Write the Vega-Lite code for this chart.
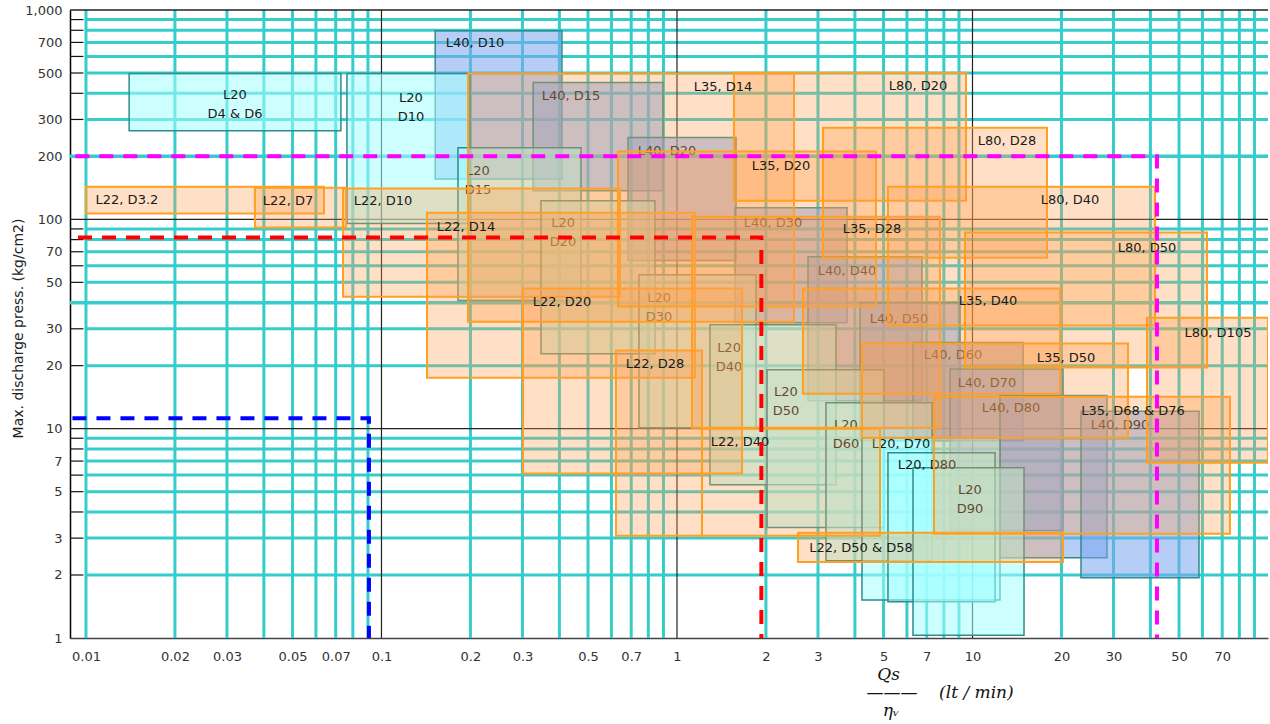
{
  "$schema": "https://vega.github.io/schema/vega-lite/v6.json",
  "width": 1198,
  "height": 628,
  "autosize": {"type": "none"},
  "padding": {"left": 70, "top": 10, "right": 2, "bottom": 86},
  "background": "#ffffff",
  "config": {"view": {"stroke": null}, "font": "DejaVu Sans"},
  "datasets": {
    "xteal": [{"x":0.01},{"x":0.02},{"x":0.03},{"x":0.04},{"x":0.05},{"x":0.06},{"x":0.07},{"x":0.08},{"x":0.09},{"x":0.2},{"x":0.3},{"x":0.4},{"x":0.5},{"x":0.6},{"x":0.7},{"x":0.8},{"x":0.9},{"x":2},{"x":3},{"x":4},{"x":5},{"x":6},{"x":7},{"x":8},{"x":9},{"x":20},{"x":30},{"x":40},{"x":50},{"x":60},{"x":70},{"x":80},{"x":90}],
    "yteal": [{"y":2},{"y":3},{"y":4},{"y":5},{"y":6},{"y":7},{"y":8},{"y":9},{"y":20},{"y":30},{"y":50},{"y":60},{"y":70},{"y":80},{"y":90},{"y":300},{"y":400},{"y":500},{"y":600},{"y":700},{"y":800},{"y":900}],
    "ytealfull": [{"y":40},{"y":200}],
    "xblack": [{"x":0.1},{"x":1},{"x":10}],
    "yblack": [{"y":10},{"y":100},{"y":1000}],
    "boxes": [
      {"name":"L40, D10","series":"L40","x":0.152,"x2":0.408,"y":156,"y2":797},
      {"name":"L40, D15","series":"L40","x":0.326,"x2":0.897,"y":137,"y2":450},
      {"name":"L40, D20","series":"L40","x":0.683,"x2":1.584,"y":63.5,"y2":246},
      {"name":"L40, D30","series":"L40","x":1.572,"x2":3.761,"y":32.1,"y2":113.7},
      {"name":"L40, D40","series":"L40","x":2.776,"x2":6.747,"y":13.6,"y2":66.3},
      {"name":"L40, D50","series":"L40","x":4.162,"x2":9.072,"y":8.76,"y2":40.0},
      {"name":"L40, D60","series":"L40","x":6.29,"x2":14.83,"y":8.76,"y2":25.8},
      {"name":"L40, D70","series":"L40","x":8.393,"x2":20.25,"y":3.26,"y2":19.3},
      {"name":"L40, D80","series":"L40","x":12.39,"x2":28.52,"y":2.42,"y2":14.4},
      {"name":"L40, D90","series":"L40","x":23.29,"x2":58.41,"y":1.94,"y2":12.1},
      {"name":"L20, D4 & D6","series":"L20","x":0.014,"x2":0.0729,"y":265,"y2":497},
      {"name":"L20, D10","series":"L20","x":0.0764,"x2":0.1993,"y":95.4,"y2":497},
      {"name":"L20, D15","series":"L20","x":0.1815,"x2":0.4733,"y":40.9,"y2":220},
      {"name":"L20, D20","series":"L20","x":0.3465,"x2":0.8424,"y":22.8,"y2":122.8},
      {"name":"L20, D30","series":"L20","x":0.7436,"x2":1.851,"y":10.1,"y2":54.4},
      {"name":"L20, D40","series":"L20","x":1.293,"x2":3.452,"y":5.4,"y2":31.4},
      {"name":"L20, D50","series":"L20","x":2.017,"x2":5.018,"y":3.37,"y2":19.1},
      {"name":"L20, D60","series":"L20","x":3.193,"x2":7.295,"y":2.34,"y2":13.3},
      {"name":"L20, D70","series":"L20","x":4.227,"x2":12.39,"y":1.52,"y2":9.06},
      {"name":"L20, D80","series":"L20","x":5.176,"x2":11.92,"y":1.49,"y2":7.68},
      {"name":"L20, D90","series":"L20","x":6.29,"x2":14.94,"y":1.03,"y2":6.51},
      {"name":"L22, D3.2","series":"L22","x":0.01,"x2":0.0639,"y":106.5,"y2":143.3},
      {"name":"L22, D7","series":"L22","x":0.0373,"x2":0.0758,"y":91.3,"y2":141.7},
      {"name":"L22, D10","series":"L22","x":0.0741,"x2":0.6414,"y":42.7,"y2":140.2},
      {"name":"L22, D14","series":"L22","x":0.1426,"x2":1.15,"y":17.5,"y2":107.6},
      {"name":"L22, D20","series":"L22","x":0.3012,"x2":1.66,"y":6.1,"y2":46.7},
      {"name":"L22, D28","series":"L22","x":0.6216,"x2":1.215,"y":3.08,"y2":23.6},
      {"name":"L22, D40","series":"L22","x":1.215,"x2":4.864,"y":3.08,"y2":10.0},
      {"name":"L22, D50 & D58","series":"L22","x":2.568,"x2":20.25,"y":2.31,"y2":3.18},
      {"name":"L35, D14","series":"L35","x":0.1963,"x2":2.489,"y":32.4,"y2":497},
      {"name":"L35, D20","series":"L35","x":0.6314,"x2":4.715,"y":38.3,"y2":211},
      {"name":"L35, D28","series":"L35","x":1.124,"x2":7.762,"y":10.1,"y2":103},
      {"name":"L35, D40","series":"L35","x":2.669,"x2":19.78,"y":14.7,"y2":46.7},
      {"name":"L35, D50","series":"L35","x":4.227,"x2":33.59,"y":9.06,"y2":25.5},
      {"name":"L35, D68 & D76","series":"L35","x":7.41,"x2":74.35,"y":3.15,"y2":14.2},
      {"name":"L80, D20","series":"L80","x":1.559,"x2":9.507,"y":122.8,"y2":502},
      {"name":"L80, D28","series":"L80","x":3.12,"x2":17.87,"y":65.6,"y2":274},
      {"name":"L80, D40","series":"L80","x":5.176,"x2":41.47,"y":31.1,"y2":143.3},
      {"name":"L80, D50","series":"L80","x":9.433,"x2":62.19,"y":19.6,"y2":86.4},
      {"name":"L80, D105","series":"L80","x":38.95,"x2":100,"y":6.88,"y2":33.9}
    ],
    "labels": [
      {"text":"L40, D10","series":"L40","x":0.2072,"y":698.6},
      {"text":"L40, D15","series":"L40","x":0.4378,"y":390},
      {"text":"L40, D20","series":"L40","x":0.9251,"y":212.9},
      {"text":"L40, D30","series":"L40","x":2.113,"y":96.4},
      {"text":"L40, D40","series":"L40","x":3.761,"y":56.9},
      {"text":"L40, D50","series":"L40","x":5.64,"y":33.5},
      {"text":"L40, D60","series":"L40","x":8.59,"y":22.6},
      {"text":"L40, D70","series":"L40","x":11.19,"y":16.6},
      {"text":"L40, D80","series":"L40","x":13.5,"y":12.6},
      {"text":"L40, D90","series":"L40","x":31.56,"y":10.4},
      {"text":"L20\nD4 & D6","series":"L20","x":0.03193,"y":394},
      {"text":"L20\nD10","series":"L20","x":0.1258,"y":381.5},
      {"text":"L20\nD15","series":"L20","x":0.2121,"y":170.9},
      {"text":"L20\nD20","series":"L20","x":0.4115,"y":96.4},
      {"text":"L20\nD30","series":"L20","x":0.8694,"y":42.3},
      {"text":"L20\nD40","series":"L20","x":1.5,"y":24.4},
      {"text":"L20\nD50","series":"L20","x":2.338,"y":14.9},
      {"text":"L20\nD60","series":"L20","x":3.732,"y":10.4},
      {"text":"L20, D70","series":"L20","x":5.729,"y":8.48},
      {"text":"L20, D80","series":"L20","x":7.015,"y":6.73},
      {"text":"L20\nD90","series":"L20","x":9.806,"y":5.11},
      {"text":"L22, D3.2","series":"L22","x":0.01376,"y":124.2},
      {"text":"L22, D7","series":"L22","x":0.04828,"y":122.8},
      {"text":"L22, D10","series":"L22","x":0.1012,"y":122.8},
      {"text":"L22, D14","series":"L22","x":0.1932,"y":92.3},
      {"text":"L22, D20","series":"L22","x":0.4083,"y":40.5},
      {"text":"L22, D28","series":"L22","x":0.8424,"y":20.4},
      {"text":"L22, D40","series":"L22","x":1.634,"y":8.67},
      {"text":"L22, D50 & D58","series":"L22","x":4.195,"y":2.7},
      {"text":"L35, D14","series":"L35","x":1.431,"y":430.5},
      {"text":"L35, D20","series":"L35","x":2.248,"y":180.5},
      {"text":"L35, D28","series":"L35","x":4.57,"y":90.3},
      {"text":"L35, D40","series":"L35","x":11.28,"y":40.9},
      {"text":"L35, D50","series":"L35","x":20.72,"y":21.8},
      {"text":"L35, D68 & D76","series":"L35","x":34.92,"y":12.2},
      {"text":"L80, D20","series":"L80","x":6.541,"y":435.4},
      {"text":"L80, D28","series":"L80","x":13.09,"y":237.7},
      {"text":"L80, D40","series":"L80","x":21.38,"y":124.2},
      {"text":"L80, D50","series":"L80","x":38.95,"y":73.2},
      {"text":"L80, D105","series":"L80","x":67.73,"y":28.8}
    ],
    "guides": [
      {"g":"magenta","o":1,"x":0.0092,"y":200},
      {"g":"magenta","o":2,"x":42.1,"y":200},
      {"g":"magenta","o":3,"x":42.1,"y":1},
      {"g":"red","o":1,"x":0.0094,"y":82},
      {"g":"red","o":2,"x":1.93,"y":82},
      {"g":"red","o":3,"x":1.93,"y":1},
      {"g":"blue","o":1,"x":0.009,"y":11.2},
      {"g":"blue","o":2,"x":0.0907,"y":11.2},
      {"g":"blue","o":3,"x":0.0907,"y":1}
    ]
  },
  "layer": [
    {"data": {"name": "boxes"}, "transform": [{"filter": "datum.series == 'none'"}],
     "mark": {"type": "rect"},
     "encoding": {
       "x": {"field": "x", "type": "quantitative", "scale": {"type": "log", "domain": [0.00883, 100], "nice": false},
         "axis": {"values": [0.01,0.02,0.03,0.05,0.07,0.1,0.2,0.3,0.5,0.7,1,2,3,5,7,10,20,30,50,70],
           "format": "~g", "grid": false, "ticks": false, "domainColor": "#444", "domainWidth": 1.5,
           "labelFontSize": 13, "labelColor": "#333", "labelPadding": 12, "labelFlush": false, "labelOverlap": false,
           "title": ["\u200b\u00a0\u00a0Qs", "———\u00a0\u00a0\u00a0\u00a0(lt / min)", "\u200b\u00a0\u00a0\u00a0η\u1d65"], "titleFont": "DejaVu Serif", "titleFontStyle": "italic",
           "titleFontSize": 17, "titleFontWeight": "normal", "titleColor": "#111", "titleAlign": "left",
           "titleBaseline": "top", "titleX": 796, "titleY": 28, "titleLineHeight": 18}},
       "x2": {"field": "x2"},
       "y": {"field": "y", "type": "quantitative", "scale": {"type": "log", "domain": [1, 1000], "nice": false, "zero": false},
         "axis": {"values": [1,2,3,5,7,10,20,30,50,70,100,200,300,500,700,1000],
           "format": ",~g", "grid": false, "ticks": false, "domainColor": "#000", "domainWidth": 1.5,
           "labelFontSize": 13, "labelColor": "#333", "labelPadding": 8, "labelFlush": false, "labelOverlap": false,
           "title": "Max. discharge press. (kg/cm2)", "titleFontSize": 14, "titleFontWeight": "normal",
           "titleColor": "#222", "titleX": -52, "titleY": 318, "titleAlign": "center", "titleBaseline": "middle"}},
       "y2": {"field": "y2"}}},
    {"data": {"name": "xteal"}, "mark": {"type": "rule", "color": "#36cccc", "strokeWidth": 3},
     "encoding": {
       "x": {"field": "x", "type": "quantitative", "scale": {"type": "log", "domain": [0.00883, 100], "nice": false}},
       "y": {"datum": 1, "type": "quantitative", "scale": {"type": "log", "domain": [1, 1000], "nice": false, "zero": false}},
       "y2": {"datum": 1000}}},
    {"data": {"name": "yteal"}, "mark": {"type": "rule", "color": "#36cccc", "strokeWidth": 3},
     "encoding": {
       "y": {"field": "y", "type": "quantitative", "scale": {"type": "log", "domain": [1, 1000], "nice": false, "zero": false}},
       "x": {"datum": 0.01, "type": "quantitative", "scale": {"type": "log", "domain": [0.00883, 100], "nice": false}},
       "x2": {"datum": 100}}},
    {"data": {"name": "ytealfull"}, "mark": {"type": "rule", "color": "#36cccc", "strokeWidth": 3.5},
     "encoding": {
       "y": {"field": "y", "type": "quantitative", "scale": {"type": "log", "domain": [1, 1000], "nice": false, "zero": false}},
       "x": {"datum": 0.00883, "type": "quantitative", "scale": {"type": "log", "domain": [0.00883, 100], "nice": false}},
       "x2": {"datum": 100}}},
    {"data": {"name": "yteal"}, "mark": {"type": "rule", "color": "#111111", "strokeWidth": 1.2},
     "encoding": {
       "y": {"field": "y", "type": "quantitative", "scale": {"type": "log", "domain": [1, 1000], "nice": false, "zero": false}},
       "x": {"datum": 0.00883, "type": "quantitative", "scale": {"type": "log", "domain": [0.00883, 100], "nice": false}},
       "x2": {"datum": 0.0098}}},
    {"data": {"name": "xblack"}, "mark": {"type": "rule", "color": "#222222", "strokeWidth": 1.2},
     "encoding": {
       "x": {"field": "x", "type": "quantitative", "scale": {"type": "log", "domain": [0.00883, 100], "nice": false}},
       "y": {"datum": 1, "type": "quantitative", "scale": {"type": "log", "domain": [1, 1000], "nice": false, "zero": false}},
       "y2": {"datum": 1000}}},
    {"data": {"name": "yblack"}, "mark": {"type": "rule", "color": "#222222", "strokeWidth": 1.3},
     "encoding": {
       "y": {"field": "y", "type": "quantitative", "scale": {"type": "log", "domain": [1, 1000], "nice": false, "zero": false}},
       "x": {"datum": 0.00883, "type": "quantitative", "scale": {"type": "log", "domain": [0.00883, 100], "nice": false}},
       "x2": {"datum": 100}}},
    {"data": {"name": "boxes"}, "transform": [{"filter": "datum.series == 'L40'"}],
     "mark": {"type": "rect", "fill": "#7aa6ee", "fillOpacity": 0.55, "stroke": "#2f8c8c", "strokeWidth": 1.5, "clip": true},
     "encoding": {
       "x": {"field": "x", "type": "quantitative", "scale": {"type": "log", "domain": [0.00883, 100], "nice": false}},
       "x2": {"field": "x2"},
       "y": {"field": "y", "type": "quantitative", "scale": {"type": "log", "domain": [1, 1000], "nice": false, "zero": false}},
       "y2": {"field": "y2"}}},
    {"data": {"name": "labels"}, "transform": [{"filter": "datum.series == 'L40'"}],
     "mark": {"type": "text", "fontSize": 13, "color": "#1a1a1a", "align": "center", "baseline": "middle", "lineBreak": "\n", "lineHeight": 19},
     "encoding": {
       "x": {"field": "x", "type": "quantitative", "scale": {"type": "log", "domain": [0.00883, 100], "nice": false}},
       "y": {"field": "y", "type": "quantitative", "scale": {"type": "log", "domain": [1, 1000], "nice": false, "zero": false}},
       "text": {"field": "text"}}},
    {"data": {"name": "boxes"}, "transform": [{"filter": "datum.series == 'L20'"}],
     "mark": {"type": "rect", "fill": "#a6ffff", "fillOpacity": 0.55, "stroke": "#2f8c8c", "strokeWidth": 1.5, "clip": true},
     "encoding": {
       "x": {"field": "x", "type": "quantitative", "scale": {"type": "log", "domain": [0.00883, 100], "nice": false}},
       "x2": {"field": "x2"},
       "y": {"field": "y", "type": "quantitative", "scale": {"type": "log", "domain": [1, 1000], "nice": false, "zero": false}},
       "y2": {"field": "y2"}}},
    {"data": {"name": "labels"}, "transform": [{"filter": "datum.series == 'L20'"}],
     "mark": {"type": "text", "fontSize": 13, "color": "#1a1a1a", "align": "center", "baseline": "middle", "lineBreak": "\n", "lineHeight": 19},
     "encoding": {
       "x": {"field": "x", "type": "quantitative", "scale": {"type": "log", "domain": [0.00883, 100], "nice": false}},
       "y": {"field": "y", "type": "quantitative", "scale": {"type": "log", "domain": [1, 1000], "nice": false, "zero": false}},
       "text": {"field": "text"}}},
    {"data": {"name": "boxes"}, "transform": [{"filter": "datum.series == 'L22' || datum.series == 'L35' || datum.series == 'L80'"}],
     "mark": {"type": "rect", "fill": "#ffa04d", "fillOpacity": 0.32, "stroke": "#ffa020", "strokeWidth": 2, "clip": true},
     "encoding": {
       "x": {"field": "x", "type": "quantitative", "scale": {"type": "log", "domain": [0.00883, 100], "nice": false}},
       "x2": {"field": "x2"},
       "y": {"field": "y", "type": "quantitative", "scale": {"type": "log", "domain": [1, 1000], "nice": false, "zero": false}},
       "y2": {"field": "y2"}}},
    {"data": {"name": "labels"}, "transform": [{"filter": "datum.series == 'L22' || datum.series == 'L35' || datum.series == 'L80'"}],
     "mark": {"type": "text", "fontSize": 13, "color": "#1a1a1a", "align": "center", "baseline": "middle", "lineBreak": "\n", "lineHeight": 19},
     "encoding": {
       "x": {"field": "x", "type": "quantitative", "scale": {"type": "log", "domain": [0.00883, 100], "nice": false}},
       "y": {"field": "y", "type": "quantitative", "scale": {"type": "log", "domain": [1, 1000], "nice": false, "zero": false}},
       "text": {"field": "text"}}},
    {"data": {"name": "guides"},
     "mark": {"type": "line", "strokeWidth": 4, "strokeDash": [14, 10], "clip": true},
     "encoding": {
       "x": {"field": "x", "type": "quantitative", "scale": {"type": "log", "domain": [0.00883, 100], "nice": false}},
       "y": {"field": "y", "type": "quantitative", "scale": {"type": "log", "domain": [1, 1000], "nice": false, "zero": false}},
       "stroke": {"field": "g", "type": "nominal", "scale": {"domain": ["magenta", "red", "blue"], "range": ["#ff00ff", "#ff0000", "#0000ff"]}, "legend": null},
       "order": {"field": "o", "type": "quantitative"}}}
  ]
}
